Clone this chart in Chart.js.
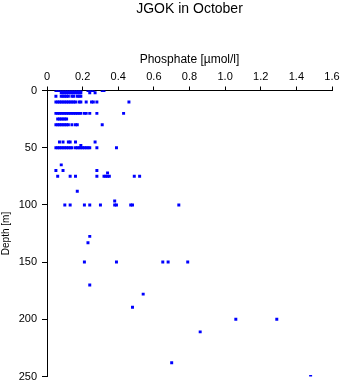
<!DOCTYPE html>
<html>
<head>
<meta charset="utf-8">
<title>JGOK in October</title>
<script src="https://cdn.jsdelivr.net/npm/chart.js@4/dist/chart.umd.min.js"></script>
<style>
    html, body { margin: 0; padding: 0; background: #fff; }
    #wrap { position: relative; width: 343px; height: 384px; }
</style>
</head>
<body>
<div id="wrap"><canvas id="profile"></canvas></div>
<script>
// depth of each sampled level [m]
var depthLevels = [0, 2, 5, 10, 20, 25, 30, 45, 48, 50, 65, 70, 72, 75, 88, 96.5, 100,
    127.5, 133, 150, 170, 178, 189.5, 200, 211, 238, 250];

// phosphate readings at each level [umol/l]
var phosphateByLevel = [
    [0.05, 0.06, 0.07, 0.08, 0.09, 0.10, 0.11, 0.12, 0.13, 0.14, 0.15, 0.16, 0.17, 0.18, 0.19, 0.23, 0.24, 0.25, 0.26, 0.31, 0.32],
    [0.08, 0.09, 0.10, 0.11, 0.12, 0.13, 0.14, 0.15, 0.16, 0.17, 0.18, 0.19, 0.24, 0.27],
    [0.05, 0.08, 0.09, 0.10, 0.11, 0.12, 0.14, 0.15, 0.17, 0.18, 0.19],
    [0.05, 0.06, 0.07, 0.08, 0.09, 0.10, 0.11, 0.12, 0.13, 0.14, 0.15, 0.16, 0.18, 0.19, 0.22, 0.25, 0.26, 0.28, 0.46],
    [0.05, 0.06, 0.07, 0.08, 0.09, 0.10, 0.11, 0.12, 0.13, 0.14, 0.15, 0.16, 0.17, 0.18, 0.19, 0.21, 0.22, 0.24, 0.28, 0.43],
    [0.06, 0.07, 0.08, 0.09, 0.10, 0.11],
    [0.05, 0.06, 0.07, 0.08, 0.09, 0.10, 0.11, 0.12, 0.14, 0.16, 0.17, 0.31],
    [0.07, 0.09, 0.12, 0.13, 0.16, 0.27],
    [0.19],
    [0.05, 0.06, 0.07, 0.08, 0.09, 0.10, 0.11, 0.12, 0.13, 0.14, 0.16, 0.17, 0.18, 0.19, 0.20, 0.21, 0.22, 0.23, 0.24, 0.28, 0.39],
    [0.08],
    [0.05, 0.09, 0.28],
    [0.34],
    [0.06, 0.13, 0.16, 0.28, 0.32, 0.33, 0.34, 0.35, 0.49, 0.52],
    [0.17],
    [0.38],
    [0.10, 0.13, 0.21, 0.24, 0.30, 0.38, 0.39, 0.47, 0.48, 0.74],
    [0.24],
    [0.23],
    [0.21, 0.39, 0.65, 0.68, 0.79],
    [0.24],
    [0.54],
    [0.48],
    [1.06, 1.29],
    [0.86],
    [0.70],
    [1.48]
];

var xRange = [0, 1.6];
var yRange = [0, 250];

(function () {
    var points = [];
    depthLevels.forEach(function (d, i) {
        phosphateByLevel[i].forEach(function (p) {
            points.push({ x: p, y: d });
        });
    });

    var font = '"Liberation Sans", Arial, sans-serif';

    // main title, centred over the plot area like the original
    var titlePlugin = {
        id: 'topTitle',
        afterDraw: function (chart) {
            var ctx = chart.ctx;
            var a = chart.chartArea;
            ctx.save();
            ctx.font = '14px ' + font;
            ctx.fillStyle = '#000';
            ctx.textAlign = 'center';
            ctx.textBaseline = 'middle';
            ctx.fillText('JGOK in October', (a.left + a.right) / 2, 9);
            ctx.restore();
        }
    };

    new Chart(document.getElementById('profile').getContext('2d'), {
        type: 'scatter',
        data: {
            datasets: [{
                data: points,
                pointStyle: 'rect',
                pointRadius: 2.1,
                pointBorderWidth: 0,
                backgroundColor: '#0000ff',
                borderColor: '#0000ff'
            }]
        },
        options: {
            responsive: true,
            maintainAspectRatio: false,
            animation: false,
            layout: { padding: { top: 52.5, right: 11, bottom: 7.5, left: 0 } },
            plugins: {
                legend: { display: false },
                tooltip: { enabled: false },
                title: { display: false }
            },
            scales: {
                x: {
                    type: 'linear',
                    position: 'top',
                    min: xRange[0],
                    max: xRange[1],
                    afterFit: function (s) { s.height = 38; },
                    ticks: {
                        stepSize: 0.2,
                        color: '#000',
                        padding: 3,
                        font: { family: font, size: 11 }
                    },
                    grid: { drawOnChartArea: false, color: '#000', tickLength: 4 },
                    border: { color: '#000', width: 1 },
                    title: {
                        display: true,
                        text: 'Phosphate [µmol/l]',
                        color: '#000',
                        padding: { top: 0, bottom: 2 },
                        font: { family: font, size: 12 }
                    }
                },
                y: {
                    type: 'linear',
                    reverse: true,
                    min: yRange[0],
                    max: yRange[1],
                    afterFit: function (s) {
                        s.width = 47;
                        s.paddingTop = 0;
                        s.paddingBottom = 0;
                    },
                    ticks: {
                        stepSize: 50,
                        color: '#000',
                        padding: 5,
                        font: { family: font, size: 11 }
                    },
                    grid: { drawOnChartArea: false, color: '#000', tickLength: 5 },
                    border: { color: '#000', width: 1 },
                    title: {
                        display: true,
                        text: 'Depth [m]',
                        color: '#000',
                        padding: { top: 0, bottom: 0 },
                        font: { family: font, size: 10 }
                    }
                }
            }
        },
        plugins: [titlePlugin]
    });
})();
</script>
</body>
</html>
